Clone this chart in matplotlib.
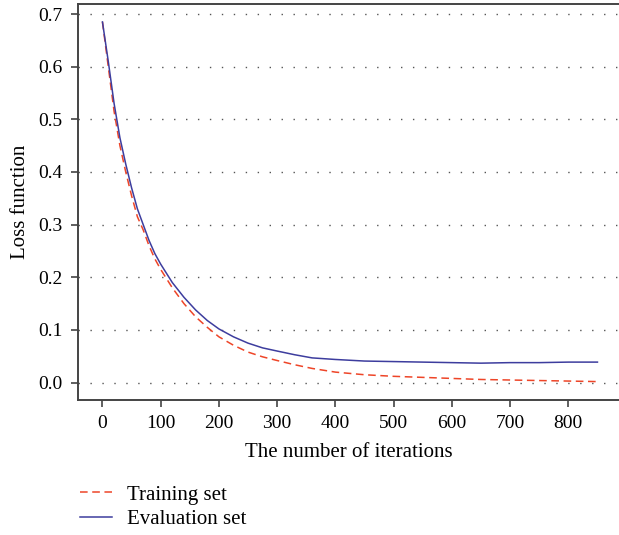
import numpy as np
import matplotlib.pyplot as plt

plt.rcParams['font.family'] = ['Liberation Serif', 'DejaVu Serif']

iterations = [0, 10, 20, 30, 40, 50, 60, 70, 80, 90, 100, 120, 140, 160, 180, 200,
              225, 250, 275, 300, 330, 360, 400, 450, 500, 550, 600, 650, 700,
              750, 800, 850]
train_loss = [0.685, 0.600, 0.515, 0.450, 0.400, 0.355, 0.315, 0.290, 0.260, 0.235,
              0.215, 0.180, 0.150, 0.125, 0.105, 0.087, 0.071, 0.058, 0.049, 0.042,
              0.034, 0.027, 0.020, 0.015, 0.012, 0.010, 0.008, 0.006, 0.005, 0.004,
              0.003, 0.002]
eval_loss = [0.685, 0.610, 0.530, 0.465, 0.415, 0.370, 0.330, 0.300, 0.270, 0.245,
             0.225, 0.190, 0.162, 0.138, 0.118, 0.102, 0.087, 0.075, 0.066, 0.060,
             0.053, 0.047, 0.044, 0.041, 0.040, 0.039, 0.038, 0.037, 0.038, 0.038,
             0.039, 0.039]

fig = plt.figure(figsize=(6.19, 5.35), dpi=100)
ax = fig.add_axes([0.126, 0.2523, 0.874, 0.7402])

ax.plot(iterations, train_loss, color='#ee4528', linestyle=(0, (5, 3)), lw=1.1,
        label='Training set', zorder=3)
ax.plot(iterations, eval_loss, color='#3d3d9e', lw=1.1, label='Evaluation set', zorder=3)

ax.set_xlim(-42, 887)
ax.set_ylim(-0.033, 0.719)
ax.set_xticks(np.arange(0, 801, 100))
ax.set_yticks(np.arange(0, 0.71, 0.1))
ax.set_yticklabels([f'{v:.1f}' for v in np.arange(0, 0.71, 0.1)])
ax.grid(axis='y', linestyle=(0, (1, 7.6)), color='#555555', lw=1.0)

ax.spines['right'].set_visible(False)
for s in ['left', 'top', 'bottom']:
    ax.spines[s].set_color('#444444')
    ax.spines[s].set_linewidth(1.4)
ax.tick_params(direction='out', length=5, width=1.2, color='#444444',
               labelsize=14, pad=6)

ax.set_xlabel('The number of iterations', fontsize=15, labelpad=8)
ax.set_ylabel('Loss function', fontsize=15, labelpad=6)

fig.legend(loc='upper left', bbox_to_anchor=(0.116, 0.109), frameon=False,
           fontsize=15, handlelength=1.55, handletextpad=0.7, labelspacing=0.25,
           borderaxespad=0)

fig.savefig('out.png', dpi=100)
